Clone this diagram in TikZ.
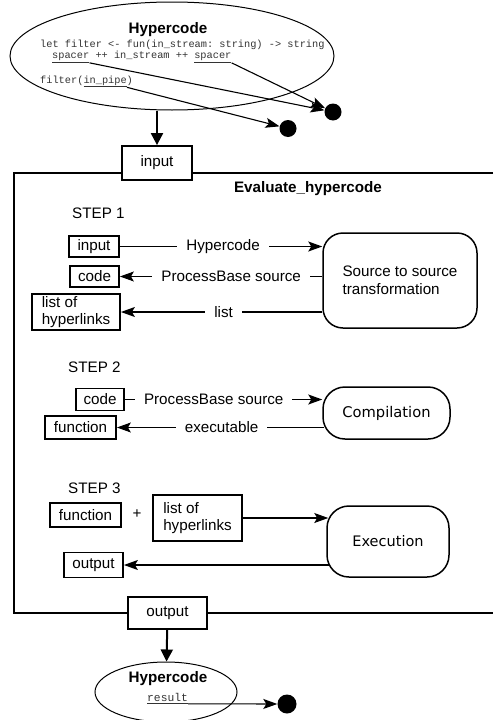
\documentclass[tikz,border=0pt]{standalone}
\usepackage{fontspec}
\setmainfont{Liberation Sans}
\setmonofont{Liberation Mono}
\newfontfamily\roundfont{DejaVu Sans}
\usetikzlibrary{shapes.geometric, arrows.meta, positioning, calc}

\begin{document}
\begin{tikzpicture}[
    x=1pt, y=-1pt,
    every node/.style={font=\fontsize{15.2pt}{17.5pt}\selectfont},
    port/.style={rectangle, draw, line width=1.8pt, fill=white, inner sep=2pt, align=left},
    process/.style={rectangle, draw, line width=1.5pt, align=left},
    title/.style={font=\fontsize{15.2pt}{17.5pt}\selectfont\bfseries},
    stagelbl/.style={anchor=west, inner sep=0pt},
    code/.style={font=\fontsize{10.3pt}{12pt}\selectfont\ttfamily, text=black!80, inner sep=0pt, anchor=base west},
    blob/.style={circle, fill=black, inner sep=0pt, minimum size=17pt},
    hyper/.style={ellipse, draw, line width=1pt, inner sep=0pt},
    arrow/.style={-{Stealth[length=14pt, width=10pt, inset=3pt]}, line width=1.1pt},
    bigarrow/.style={-{Triangle[length=12pt, width=12pt]}, line width=2pt},
    lbl/.style={fill=white, inner xsep=9pt, inner ysep=1pt},
]
\useasboundingbox (0,0) rectangle (493,720);

% Hypercode in
\node[hyper, minimum width=324pt, minimum height=108pt] (hcTop) at (172,56) {};
\node[title] (hcTopTitle) at (168,30) {Hypercode};
\node[code] (lineA) at (40,47) {let filter <- fun(in\_stream: string) -> string};
\node[code] (spacerA) at (52,58.5) {\underline{spacer}};
\node[code] (lineB) at (95.3,58.5) {++ in\_stream ++};
\node[code] (spacerB) at (194.1,58.5) {\underline{spacer}};
\node[code] (lineC) at (40,83) {filter(};
\node[code] (inPipe) at (83.3,83) {\underline{in\_pipe}};
\node[code] (lineD) at (126.5,83) {)};
\node[blob] (dotA) at (333,112) {};
\node[blob] (dotB) at (288,128.5) {};

% Evaluate_hypercode frame
\draw[line width=1.2pt] (493,173) -- (14,173) -- (14,613) -- (493,613);
\node[port, minimum width=70pt, minimum height=34pt] (inTop) at (157,163) {input};
\node[title] (evalTitle) at (308,189) {Evaluate\_hypercode};

% Step 1
\node[stagelbl] (stage1) at (72,213) {STEP 1};
\node[port, minimum width=50pt, minimum height=21pt] (in1) at (94,246.5) {input};
\node[port, minimum width=49pt, minimum height=21pt] (code1) at (94.5,276.5) {code};
\node[port, minimum width=88pt, minimum height=36pt] (links1) at (76,312) {list of\\hyperlinks};
\node[process, rounded corners=20pt, minimum width=154pt, minimum height=95pt] (sts) at (400,280.5) {Source to source\\transformation};

% Step 2
\node[stagelbl] (stage2) at (68,367) {STEP 2};
\node[port, minimum width=48pt, minimum height=22pt] (code2) at (100,399.5) {code};
\node[port, minimum width=71pt, minimum height=23pt] (fn2) at (80.5,427.5) {function};
\node[process, rounded corners=22pt, minimum width=127pt, minimum height=52pt, font=\fontsize{14.7pt}{17pt}\selectfont\roundfont] (comp) at (386.5,413) {Compilation};

% Step 3
\node[stagelbl] (stage3) at (68,488) {STEP 3};
\node[port, minimum width=71pt, minimum height=24pt] (fn3) at (85.5,515) {function};
\node (plus) at (137,514) {+};
\node[port, minimum width=89pt, minimum height=46pt] (links3) at (197.5,518) {list of\\hyperlinks};
\node[process, rounded corners=22pt, minimum width=122pt, minimum height=71pt, font=\fontsize{14.5pt}{17pt}\selectfont\roundfont] (exec) at (388,541.5) {Execution};
\node[port, minimum width=59pt, minimum height=25pt] (out3) at (93.5,565) {output};

% Hypercode out
\node[port, minimum width=79pt, minimum height=32pt] (outBot) at (167.5,613) {output};
\node[hyper, minimum width=142pt, minimum height=60pt] (hcBot) at (166,692) {};
\node[title] (hcBotTitle) at (168,679) {Hypercode};
\node[code, font=\fontsize{11.3pt}{13pt}\selectfont\ttfamily] (resultW) at (147,701.5) {\underline{result}};
\node[blob, minimum size=19pt] (dotC) at (287,704) {};

% Arrows
\draw[bigarrow] (hcTop.south -| inTop.north) -- (inTop.north);
\draw[arrow] (spacerA.south east) -- (dotA);
\draw[arrow] (spacerB.south east) -- (dotA);
\draw[arrow] (inPipe.south east) -- (dotB);

\draw[arrow] (in1.east) -- node[lbl, pos=0.51] {Hypercode} (in1.east -| sts.west);
\draw[arrow] (code1.east -| sts.west) -- node[lbl, pos=0.45] {ProcessBase source} (code1.east);
\draw[arrow] (links1.east -| sts.west) -- node[lbl, pos=0.49] {list} (links1.east);

\draw[arrow] (code2.east) -- node[lbl, pos=0.45] {ProcessBase source} (code2.east -| comp.west);
\draw[arrow, shorten <=-2pt] (fn2.east -| comp.west) -- node[lbl, pos=0.49] {executable} (fn2.east);

\draw[arrow] (links3.east) -- ([xshift=2pt]links3.east -| exec.west);
\draw[arrow, shorten <=-4pt] (out3.east -| exec.west) -- (out3.east);

\draw[bigarrow] (outBot) -- (hcBot);
\draw[arrow] (resultW.south east) -- (dotC);

\end{tikzpicture}
\end{document}
